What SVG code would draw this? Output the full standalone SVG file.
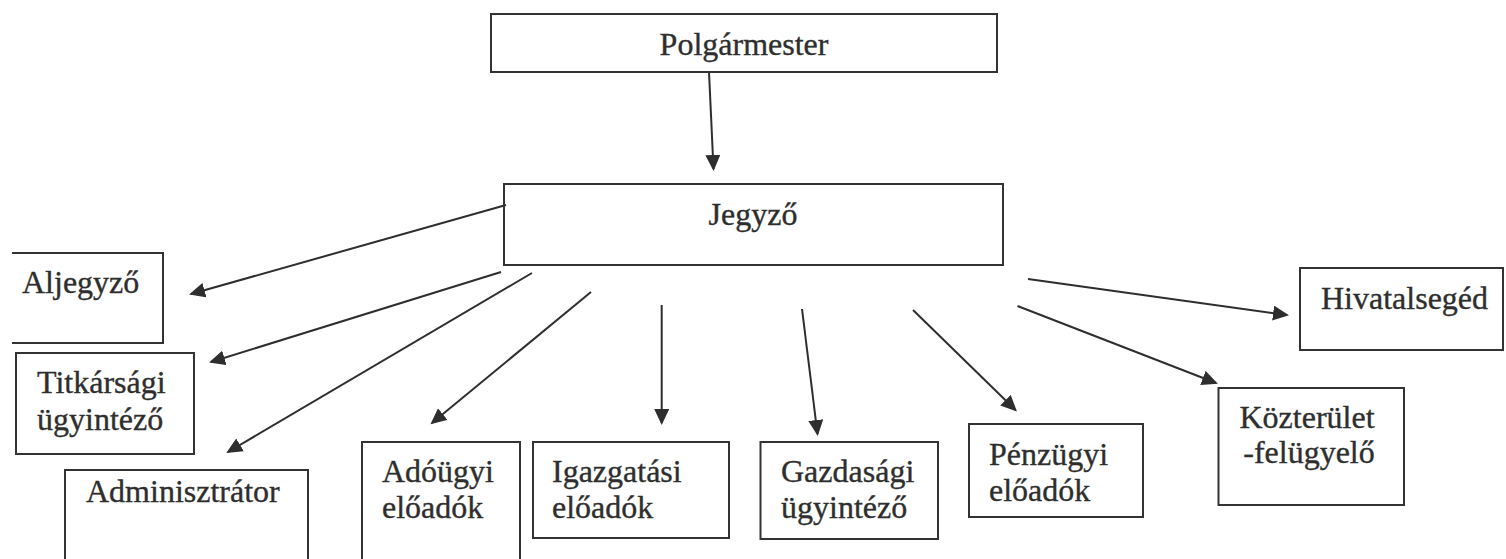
<svg xmlns="http://www.w3.org/2000/svg" width="1506" height="559" viewBox="0 0 1506 559">
<style>
.box{fill:none;stroke:#333;stroke-width:2}
.lbl{font-size:32px;fill:#2e2e2e;stroke:#2e2e2e;stroke-width:0.35}
.mid{text-anchor:middle}
.con{stroke:#2e2e2e;stroke-width:2;fill:none;marker-end:url(#ah)}
</style>
<defs>
<marker id="ah" markerUnits="userSpaceOnUse" markerWidth="17" markerHeight="15" refX="14" refY="7.5" orient="auto">
<path d="M0,0 L16,7.5 L0,15 Z" fill="#2e2e2e"/>
</marker>
</defs>
<rect width="1506" height="559" fill="#fff"/>
<g id="connectors">
<line class="con" x1="709" y1="72" x2="713.5" y2="169"/>
<line class="con" x1="506" y1="205" x2="191" y2="294"/>
<line class="con" x1="501" y1="272" x2="211" y2="362"/>
<line class="con" x1="532" y1="273" x2="228" y2="452"/>
<line class="con" x1="591" y1="292" x2="432" y2="423"/>
<line class="con" x1="661.7" y1="305" x2="661.7" y2="423"/>
<line class="con" x1="802" y1="309" x2="817.5" y2="434"/>
<line class="con" x1="913" y1="310" x2="1015.5" y2="410"/>
<line class="con" x1="1017.5" y1="306" x2="1216" y2="383"/>
<line class="con" x1="1028" y1="279" x2="1287" y2="315"/>
</g>
<g font-family="'Liberation Serif', 'DejaVu Serif', serif">
<g id="polgarmester">
<rect class="box" x="491" y="14" width="506" height="58"/>
<text class="lbl mid" x="744" y="55">Polgármester</text>
</g>
<g id="jegyzo">
<rect class="box" x="504" y="184" width="499" height="81"/>
<text class="lbl mid" x="753" y="225">Jegyző</text>
</g>
<g id="aljegyzo">
<path class="box" d="M12,253 H163 V343 H12"/>
<text class="lbl" x="22" y="293">Aljegyző</text>
</g>
<g id="titkarsagi">
<rect class="box" x="16" y="353" width="178" height="101"/>
<text class="lbl" x="37" y="393">Titkársági</text>
<text class="lbl" x="37" y="430">ügyintéző</text>
</g>
<g id="adminisztrator">
<rect class="box" x="65" y="470" width="243" height="110"/>
<text class="lbl" x="86" y="502">Adminisztrátor</text>
</g>
<g id="adougyi">
<rect class="box" x="362" y="442" width="158" height="140"/>
<text class="lbl" x="382" y="481.5">Adóügyi</text>
<text class="lbl" x="382" y="518">előadók</text>
</g>
<g id="igazgatasi">
<rect class="box" x="533" y="442" width="196" height="96"/>
<text class="lbl" x="552" y="481.5">Igazgatási</text>
<text class="lbl" x="552" y="518">előadók</text>
</g>
<g id="gazdasagi">
<rect class="box" x="760.5" y="442" width="177.5" height="97"/>
<text class="lbl" x="781" y="481.5">Gazdasági</text>
<text class="lbl" x="781" y="518">ügyintéző</text>
</g>
<g id="penzugyi">
<rect class="box" x="969" y="424" width="174" height="93"/>
<text class="lbl" x="989" y="465">Pénzügyi</text>
<text class="lbl" x="989" y="501">előadók</text>
</g>
<g id="kozterulet">
<rect class="box" x="1218.5" y="388" width="185.5" height="117"/>
<text class="lbl mid" x="1307" y="428">Közterület</text>
<text class="lbl mid" x="1309" y="463">-felügyelő</text>
</g>
<g id="hivatalseged">
<rect class="box" x="1300" y="268" width="203" height="82"/>
<text class="lbl" x="1321" y="309">Hivatalsegéd</text>
</g>
</g>
</svg>
